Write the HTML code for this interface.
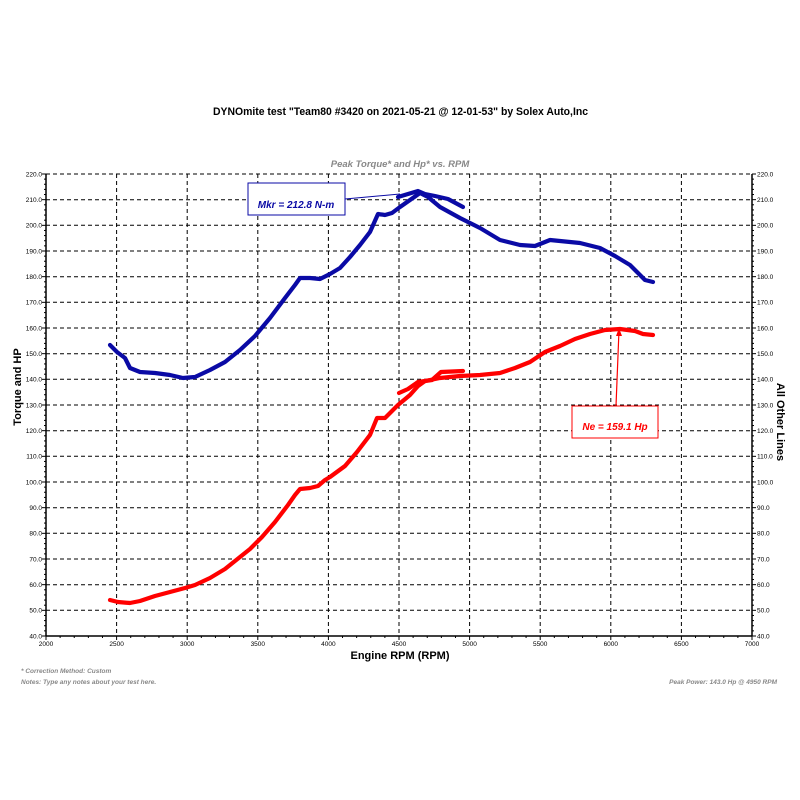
<!DOCTYPE html>
<html><head><meta charset="utf-8"><style>
html,body{margin:0;padding:0;background:#fff;}
svg{display:block;}
text{font-family:"Liberation Sans",Arial,sans-serif;}
</style></head><body>
<svg width="800" height="800" viewBox="0 0 800 800" xmlns="http://www.w3.org/2000/svg">
<rect width="800" height="800" fill="#fff"/>
<text x="213" y="115" font-size="11" font-weight="bold" textLength="375" lengthAdjust="spacingAndGlyphs" fill="#000">DYNOmite test "Team80 #3420 on 2021-05-21 @ 12-01-53" by Solex Auto,Inc</text>
<text x="400" y="167" font-size="9.5" font-weight="bold" font-style="italic" text-anchor="middle" fill="#888">Peak Torque* and Hp* vs. RPM</text>

<g stroke="#000" stroke-width="1" stroke-dasharray="4,3" fill="none">
<line x1="46" y1="174" x2="752" y2="174"/>
<line x1="46" y1="199.7" x2="752" y2="199.7"/>
<line x1="46" y1="225.3" x2="752" y2="225.3"/>
<line x1="46" y1="251" x2="752" y2="251"/>
<line x1="46" y1="276.7" x2="752" y2="276.7"/>
<line x1="46" y1="302.3" x2="752" y2="302.3"/>
<line x1="46" y1="328" x2="752" y2="328"/>
<line x1="46" y1="353.7" x2="752" y2="353.7"/>
<line x1="46" y1="379.3" x2="752" y2="379.3"/>
<line x1="46" y1="405" x2="752" y2="405"/>
<line x1="46" y1="430.7" x2="752" y2="430.7"/>
<line x1="46" y1="456.3" x2="752" y2="456.3"/>
<line x1="46" y1="482" x2="752" y2="482"/>
<line x1="46" y1="507.7" x2="752" y2="507.7"/>
<line x1="46" y1="533.3" x2="752" y2="533.3"/>
<line x1="46" y1="559" x2="752" y2="559"/>
<line x1="46" y1="584.7" x2="752" y2="584.7"/>
<line x1="46" y1="610.3" x2="752" y2="610.3"/>
<line x1="116.6" y1="174" x2="116.6" y2="636"/>
<line x1="187.2" y1="174" x2="187.2" y2="636"/>
<line x1="257.8" y1="174" x2="257.8" y2="636"/>
<line x1="328.4" y1="174" x2="328.4" y2="636"/>
<line x1="399" y1="174" x2="399" y2="636"/>
<line x1="469.6" y1="174" x2="469.6" y2="636"/>
<line x1="540.2" y1="174" x2="540.2" y2="636"/>
<line x1="610.8" y1="174" x2="610.8" y2="636"/>
<line x1="681.4" y1="174" x2="681.4" y2="636"/>
</g>

<g stroke="#000" stroke-width="1.5" fill="none">
<line x1="46" y1="174" x2="46" y2="636"/>
<line x1="752" y1="174" x2="752" y2="636"/>
<line x1="46" y1="636" x2="752" y2="636"/>
</g>

<g id="yt" stroke="#000" stroke-width="1"></g>
<g id="xt" stroke="#000" stroke-width="1"></g>
<g id="ylab" font-size="6.5" fill="#000"></g>

<!-- Blue torque curve -->
<g fill="none" stroke="#0a0aa5" stroke-width="4.2" stroke-linejoin="round" stroke-linecap="round">
<polyline points="110,345 117,352 125,358 130,368 140,372 155,373 170,375 183,378 195,377 210,370 225,362 240,350 255,336 270,318 285,298 295,285 300,278 310,278 320,279 330,274 340,268 350,257 360,245 370,232 378,214 385,215 392,213 400,207 410,200 420,193 428,197 440,207 460,218 480,228 500,240 520,245 535,246 550,240 560,241 580,243 600,248 615,256 630,265 645,280 653,282"/>
<polyline points="398,197 408,194 418,191 425,194 435,196 448,199 463,207"/>
</g>

<!-- Red HP curve -->
<g fill="none" stroke="#ff0000" stroke-width="4.2" stroke-linejoin="round" stroke-linecap="round">
<polyline points="110,600 118,602 130,603 140,601 155,596 170,592 185,588 195,585 210,578 225,569 235,561 250,549 262,537 275,522 288,505 295,495 300,489 310,488 318,486 325,480 330,477 345,466 357,452 370,435 377,418 385,418 398,405 410,395 418,386 425,381 440,378 460,376 480,375 500,373 515,368 530,362 545,352 560,346 575,339 590,334 605,330 620,329 635,331 643,334 653,335"/>
<polyline points="399,393 408,389 418,382 432,380 441,372 463,371"/>
</g>

<!-- Mkr annotation -->
<line x1="345" y1="199" x2="400" y2="194" stroke="#0a0aa5" stroke-width="1"/>
<rect x="248" y="183" width="97" height="32" fill="#fff" stroke="#0a0aa5" stroke-width="1"/>
<text x="296" y="208" font-size="10" font-weight="bold" font-style="italic" text-anchor="middle" fill="#0a0aa5">Mkr = 212.8 N-m</text>

<!-- Ne annotation -->
<line x1="616" y1="406" x2="619" y2="330" stroke="#ff0000" stroke-width="1.2"/>
<path d="M619,328 L616,336 L622,336 Z" fill="#ff0000"/>
<rect x="572" y="406" width="86" height="32" fill="#fff" stroke="#ff0000" stroke-width="1"/>
<text x="615" y="430" font-size="10" font-weight="bold" font-style="italic" text-anchor="middle" fill="#ff0000">Ne = 159.1 Hp</text>

<text transform="translate(21,387) rotate(-90)" font-size="11" font-weight="bold" text-anchor="middle" fill="#000">Torque and HP</text>
<text transform="translate(777,422) rotate(90)" font-size="11" font-weight="bold" text-anchor="middle" fill="#000">All Other Lines</text>
<text x="400" y="659" font-size="11" font-weight="bold" text-anchor="middle" fill="#000">Engine RPM (RPM)</text>

<text x="21" y="673" font-size="6.5" font-weight="bold" font-style="italic" fill="#888">* Correction Method: Custom</text>
<text x="21" y="684" font-size="6.5" font-weight="bold" font-style="italic" fill="#888">Notes: Type any notes about your test here.</text>
<text x="777" y="684" font-size="6.5" font-weight="bold" font-style="italic" text-anchor="end" fill="#888">Peak Power: 143.0 Hp @ 4950 RPM</text>

<script>
(function(){
var ns="http://www.w3.org/2000/svg";
var yt=document.getElementById("yt"),xt=document.getElementById("xt"),yl=document.getElementById("ylab");
function ln(g,x1,y1,x2,y2){var l=document.createElementNS(ns,"line");l.setAttribute("x1",x1);l.setAttribute("y1",y1);l.setAttribute("x2",x2);l.setAttribute("y2",y2);g.appendChild(l);}
function tx(s,x,y,a){var t=document.createElementNS(ns,"text");t.setAttribute("x",x);t.setAttribute("y",y);t.setAttribute("text-anchor",a);t.textContent=s;yl.appendChild(t);}
for(var v=40;v<=220;v+=2){var y=636-(v-40)*2.5667;var maj=(v%10===0);
ln(yt,maj?42:44,y,46,y);ln(yt,752,y,maj?756:754,y);
if(maj){tx(v.toFixed(1),42,y+2.3,"end");tx(v.toFixed(1),757,y+2.3,"start");}}
for(var r=2000;r<=7000;r+=100){var x=46+(r-2000)*0.1412;var maj=(r%500===0);
ln(xt,x,636,x,maj?640:638);
if(maj){tx(String(r),x,646,"middle");}}
})();
</script>
</svg>
</body></html>
